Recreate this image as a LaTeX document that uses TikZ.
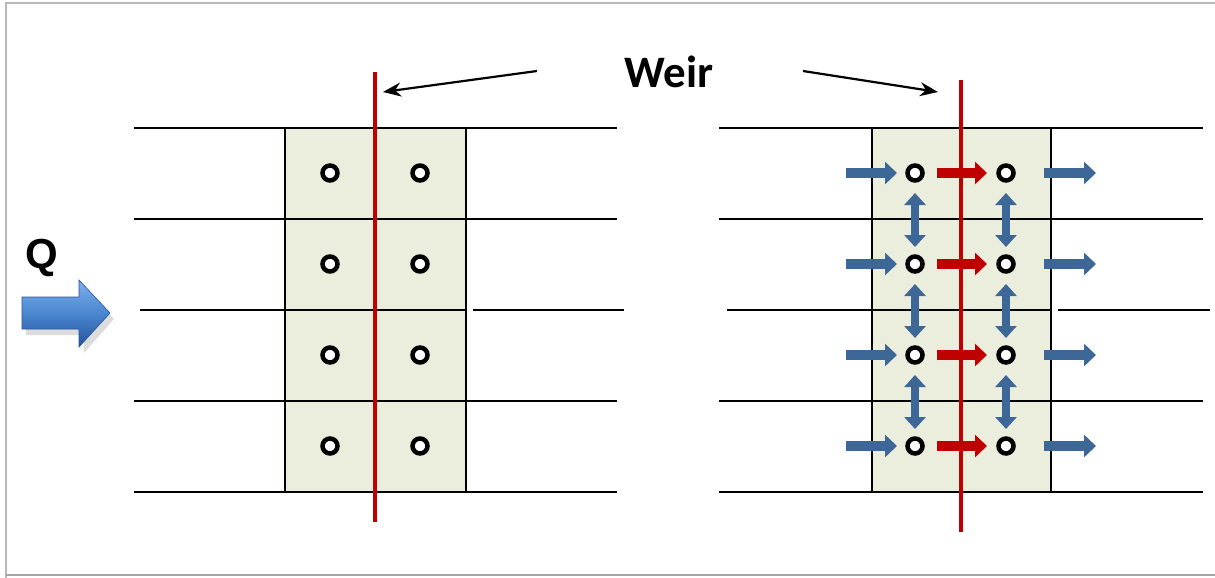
\documentclass[tikz,border=0pt]{standalone}
\usepackage{fontspec}
\setmainfont{Carlito}
\newfontfamily\qfont{Liberation Sans}
\usetikzlibrary{arrows.meta}
\definecolor{cellfill}{HTML}{EBEEDD}
\definecolor{flowblue}{HTML}{3D6797}
\definecolor{weirred}{HTML}{C00000}
\definecolor{qlight}{HTML}{7FB0EC}
\definecolor{qmid}{HTML}{4A86D0}
\definecolor{qdark}{HTML}{24549A}
\tikzset{
  grid/.style={line width=2.4pt,black},
  weir/.style={line width=3.2pt,weirred},
  hole/.style={circle,draw=black,line width=4.5pt,fill=white,minimum size=15pt,inner sep=0pt},
  bflow/.style={line width=10pt,flowblue,-{Triangle[length=12pt,width=22pt]}},
  rflow/.style={line width=10pt,weirred,-{Triangle[length=12pt,width=22pt]}},
  vflow/.style={line width=8pt,flowblue,{Triangle[length=12pt,width=21pt]}-{Triangle[length=12pt,width=21pt]}},
  pointer/.style={line width=2.2pt,black,-{Stealth[length=18pt,width=14pt]}},
  lbl/.style={font=\bfseries,inner sep=0pt}
}
\begin{document}
\begin{tikzpicture}[x=1pt,y=-1pt]
\useasboundingbox (0,0) rectangle (1215,578);
% frame
\draw[line width=1.2pt,black!28] (6,578) -- (6,3) -- (1215,3);
\draw[line width=1.6pt,black!35] (6,575) -- (1215,575);

% ---------- left panel ----------
\fill[cellfill] (285,128) rectangle (466,492);
\foreach \y in {128,219,401,492} \draw[grid] (134,\y) -- (617,\y);
\draw[grid] (140,310) -- (466,310);
\draw[grid] (473,310) -- (624,310);
\draw[grid] (285,128) rectangle (466,492);
\draw[weir] (375,72) coordinate (wl1) -- (375,522) coordinate (wl2);
\foreach \y [count=\i] in {173,264,355,446} {
  \node[hole] (la\i) at (330,\y) {};
  \node[hole] (lb\i) at (420,\y) {};
}

% ---------- right panel ----------
\fill[cellfill] (872,128) rectangle (1051,492);
\foreach \y in {128,219,401,492} \draw[grid] (719,\y) -- (1203,\y);
\draw[grid] (727,310) -- (1051,310);
\draw[grid] (1058,310) -- (1210,310);
\draw[grid] (872,128) rectangle (1051,492);
\draw[weir] (961,80) coordinate (wr1) -- (961,532) coordinate (wr2);
\foreach \y [count=\i] in {173,264,355,446} {
  \node[hole] (ra\i) at (915,\y) {};
  \node[hole] (rb\i) at (1006,\y) {};
  \coordinate (in\i) at (846,\y);
  \coordinate (out\i) at (1044,\y);
  \coordinate (outt\i) at (1096,\y);
  \draw[bflow,shorten >=18pt] (in\i) -- (ra\i.center);
  \draw[rflow,shorten <=22pt,shorten >=19pt] (ra\i.center) -- (rb\i.center);
  \draw[bflow] (out\i) -- (outt\i);
}
\foreach \i/\j in {1/2,2/3,3/4} {
  \draw[vflow,shorten <=20pt,shorten >=17pt] (ra\i.center) -- (ra\j.center);
  \draw[vflow,shorten <=20pt,shorten >=17pt] (rb\i.center) -- (rb\j.center);
}

% ---------- labels ----------
\node[lbl,font=\bfseries\fontsize{45}{45}\selectfont] (weirlbl) at (669,72) {Weir};
\coordinate (pl) at (537,71);
\coordinate (pr) at (803,71);
\draw[pointer] (pl) -- (383,92);
\draw[pointer] (pr) -- (938,92);

\node[lbl,font=\qfont\bfseries\fontsize{42}{42}\selectfont] (qlbl) at (42,258) {Q};
% Q arrow shadow
\fill[black!30,opacity=0.45] (26,303) -- (84,303) -- (84,286) -- (114,319) -- (84,353) -- (84,335) -- (26,335) -- cycle;
\shade[top color=qlight,bottom color=qdark,middle color=qmid,draw=qdark,line width=0.6pt]
  (22,297) coordinate (qa) -- (79,297) -- (79,280) -- (110,313) coordinate (qtip) -- (79,347) -- (79,329) -- (22,329) -- cycle;
\end{tikzpicture}
\end{document}
